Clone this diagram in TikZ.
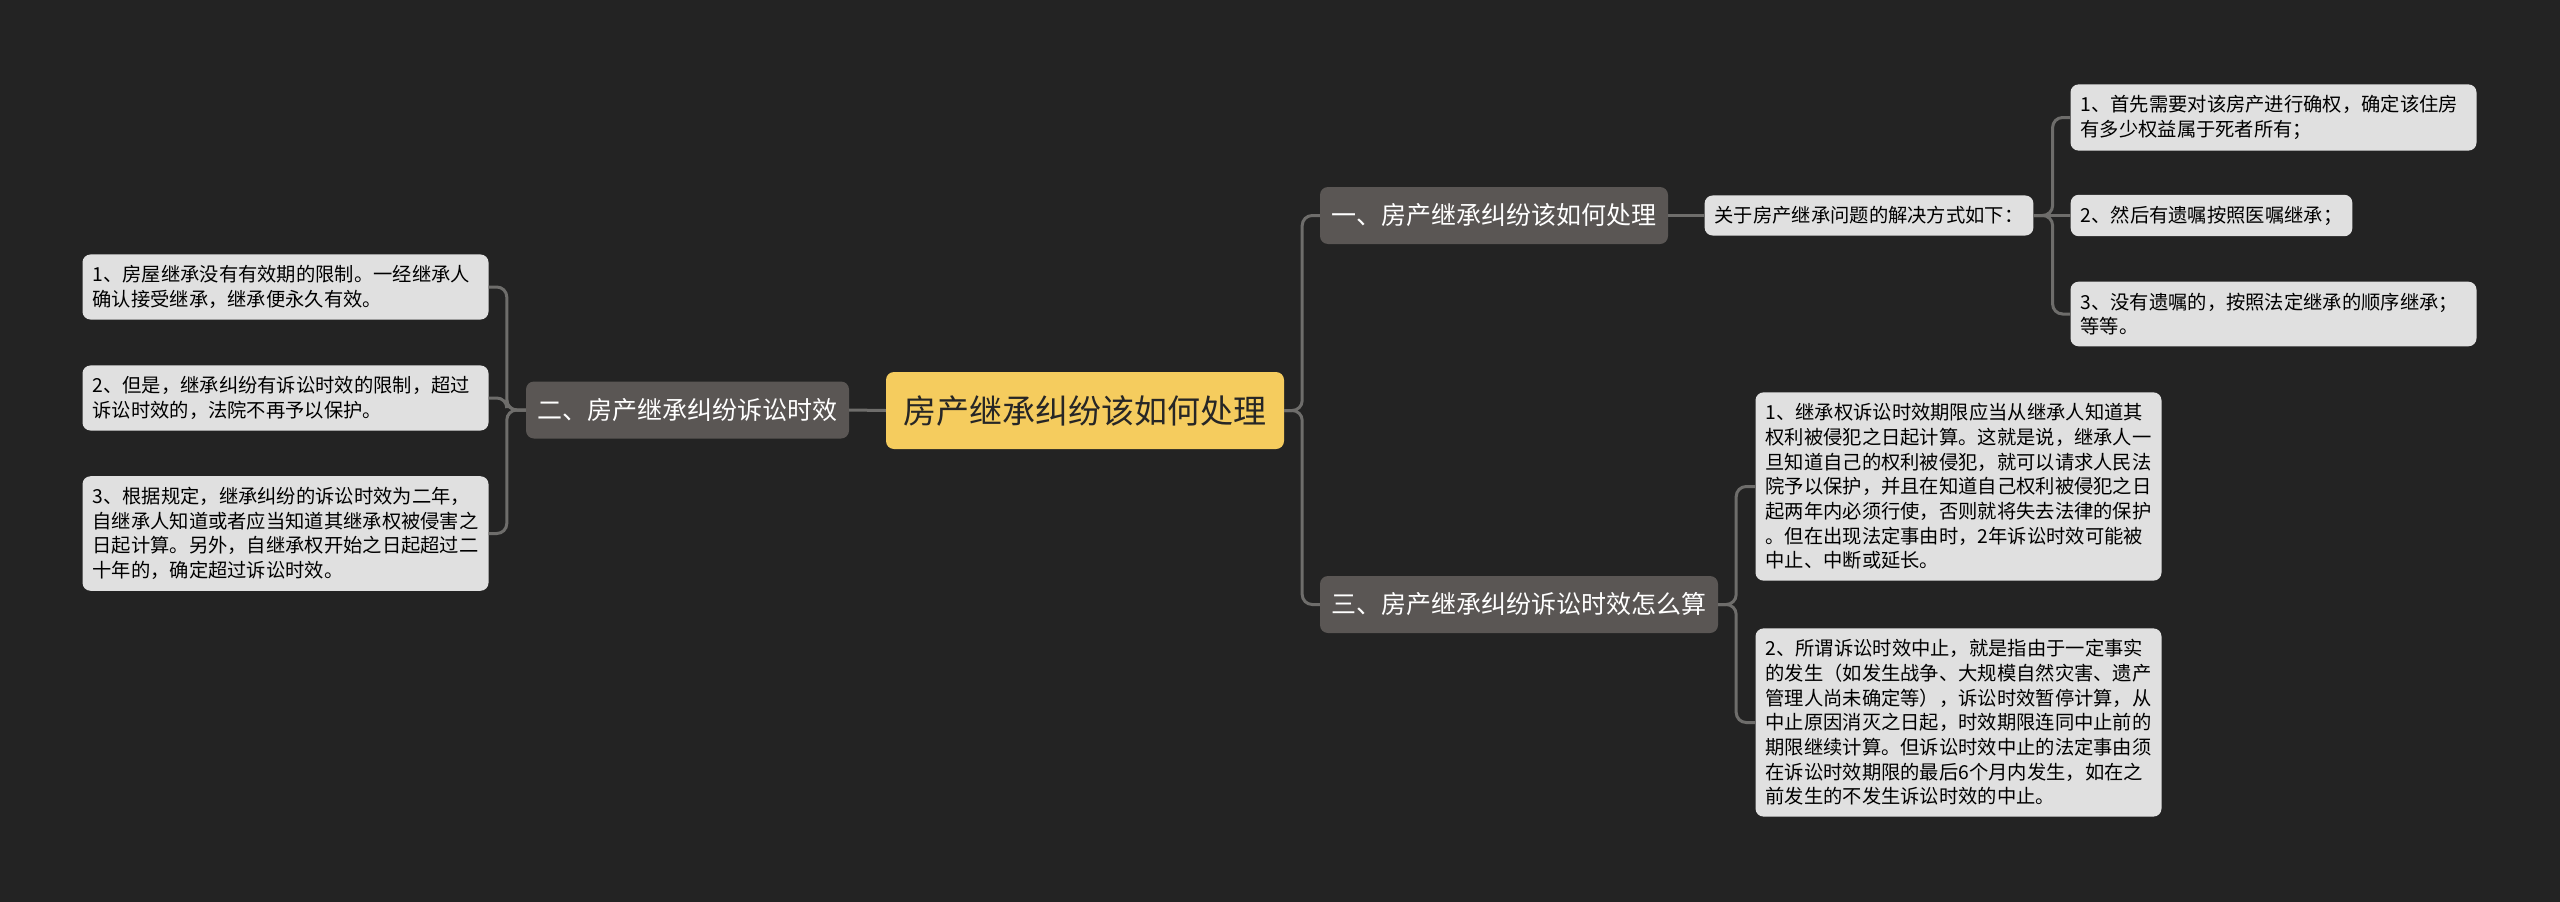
\documentclass[tikz,border=0pt]{standalone}
\usepackage{fontspec}
\setmainfont{Noto Sans CJK SC}
\usepackage{tikz}
\usetikzlibrary{positioning}

\definecolor{bgc}{HTML}{232323}
\definecolor{rootc}{HTML}{F5CC5E}
\definecolor{subc}{HTML}{5A5654}
\definecolor{leafc}{HTML}{E0E0E0}
\definecolor{linec}{HTML}{6E6D6B}

\begin{document}
\begin{tikzpicture}[
    x=1pt, y=-1pt,
    rootbox/.style={fill=rootc, rounded corners=8pt, text=black!85, minimum width=398pt, minimum height=77pt, inner xsep=17pt, font=\fontsize{33}{40}\selectfont},
    subbox/.style={fill=subc, rounded corners=8pt, text=white, minimum height=57pt, inner xsep=11.5pt, font=\fontsize{25}{30}\selectfont},
    leaf/.style={fill=leafc, rounded corners=8pt, text=black, inner xsep=10pt, inner ysep=11pt, align=left, font=\fontsize{19.3}{24.7}\selectfont},
    wide/.style={leaf, text width=386pt},
    conn/.style={draw=linec, line width=3pt, rounded corners=10pt}
]
\fill[bgc] (0,0) rectangle (2560,902);

\node[rootbox] (root) at (1085,410.5) {房产继承纠纷该如何处理};

\node[subbox] (two) at (687.5,410) {二、房产继承纠纷诉讼时效};
\node[wide] (two1) at (285.5,287) {1、房屋继承没有有效期的限制。一经继承人\\确认接受继承，继承便永久有效。};
\node[wide] (two2) at (285.5,398) {2、但是，继承纠纷有诉讼时效的限制，超过\\诉讼时效的，法院不再予以保护。};
\node[wide] (two3) at (285.5,533.5) {3、根据规定，继承纠纷的诉讼时效为二年，\\自继承人知道或者应当知道其继承权被侵害之\\日起计算。另外，自继承权开始之日起超过二\\十年的，确定超过诉讼时效。};

\node[subbox] (one) at (1494,215.5) {一、房产继承纠纷该如何处理};
\node[leaf] (way) at (1869,215.5) {关于房产继承问题的解决方式如下：};
\node[wide] (way1) at (2273.5,117.5) {1、首先需要对该房产进行确权，确定该住房\\有多少权益属于死者所有；};
\node[leaf] (way2) at (2211.5,215.5) {2、然后有遗嘱按照医嘱继承；};
\node[wide] (way3) at (2273.5,314) {3、没有遗嘱的，按照法定继承的顺序继承；\\等等。};

\node[subbox] (three) at (1519,604.5) {三、房产继承纠纷诉讼时效怎么算};
\node[wide] (three1) at (1958.5,486.5) {1、继承权诉讼时效期限应当从继承人知道其\\权利被侵犯之日起计算。这就是说，继承人一\\旦知道自己的权利被侵犯，就可以请求人民法\\院予以保护，并且在知道自己权利被侵犯之日\\起两年内必须行使，否则就将失去法律的保护\\。但在出现法定事由时，2年诉讼时效可能被\\中止、中断或延长。};
\node[wide] (three2) at (1958.5,722.5) {2、所谓诉讼时效中止，就是指由于一定事实\\的发生（如发生战争、大规模自然灾害、遗产\\管理人尚未确定等），诉讼时效暂停计算，从\\中止原因消灭之日起，时效期限连同中止前的\\期限继续计算。但诉讼时效中止的法定事由须\\在诉讼时效期限的最后6个月内发生，如在之\\前发生的不发生诉讼时效的中止。};

\draw[conn] (root.west) -- (two.east);
\foreach \k in {two1,two2,two3}
    \draw[conn] (two.west) -- ++(-19,0) |- (\k.east);

\foreach \k in {one,three}
    \draw[conn] (root.east) -- ++(18,0) |- (\k.west);
\draw[conn] (one.east) -- (way.west);
\draw[conn] (way.east) -- (way2.west);
\foreach \k in {way1,way3}
    \draw[conn] (way.east) -- ++(19,0) |- (\k.west);
\foreach \k in {three1,three2}
    \draw[conn] (three.east) -- ++(18,0) |- (\k.west);
\end{tikzpicture}
\end{document}
